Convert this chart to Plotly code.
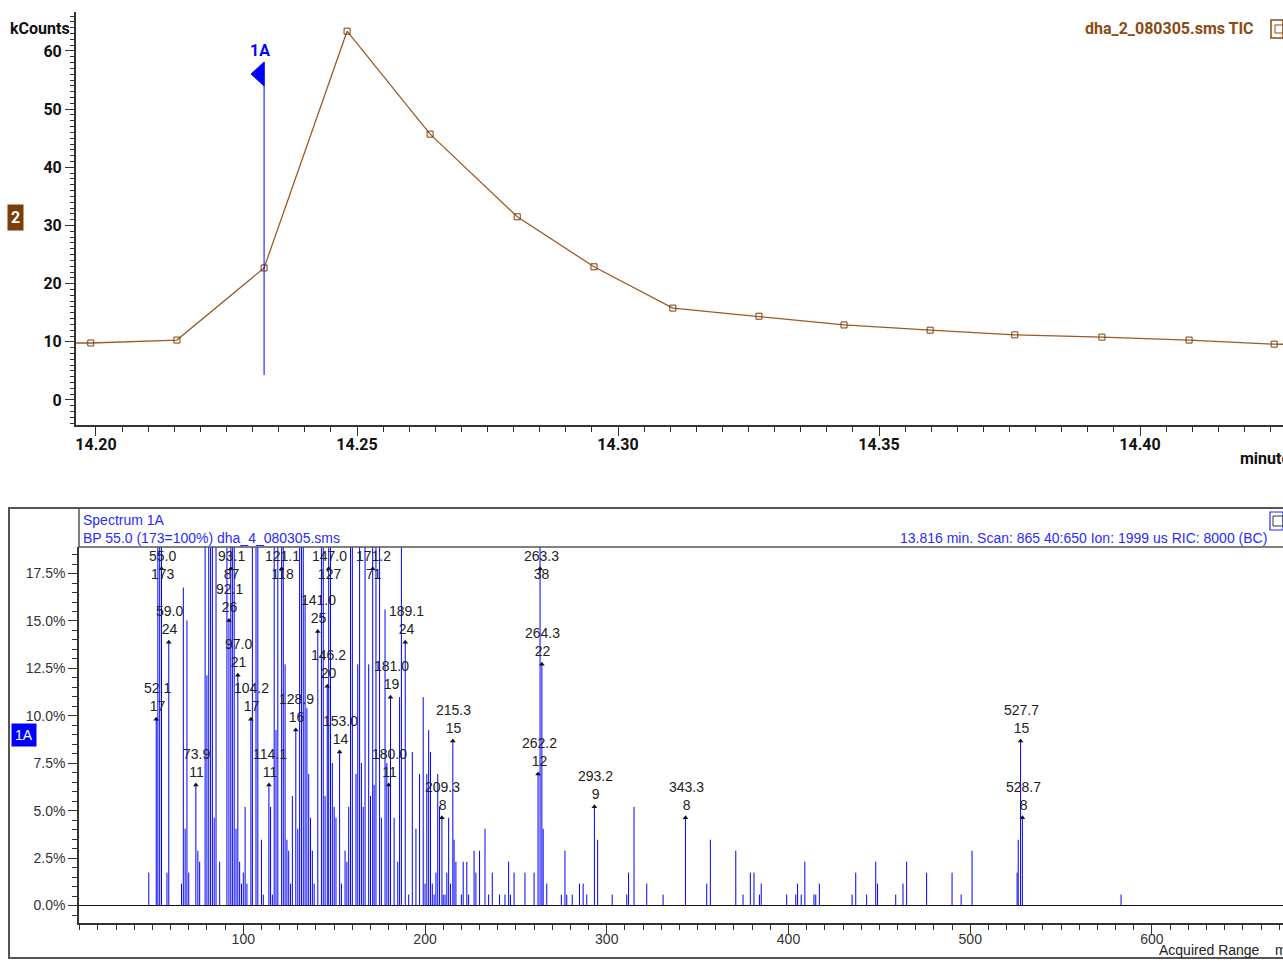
import plotly.graph_objects as go

W, H = 1283, 962

# ---------------- TIC chromatogram (upper panel) ----------------
tic_time = [14.1825, 14.1990, 14.2155, 14.2322, 14.2481, 14.2640, 14.2807, 14.2954,
            14.3105, 14.3270, 14.3433, 14.3598, 14.3760, 14.3927, 14.4094, 14.4257, 14.4424]
tic_kcounts = [9.8, 9.8, 10.3, 22.7, 63.4, 45.7, 31.5, 22.9,
               15.8, 14.4, 12.9, 12.0, 11.2, 10.8, 10.3, 9.6, 9.4]

spectrum_time = 14.2322          # retention time of spectrum 1A
spectrum_line = [4.3, 58.1]      # extent of the 1A marker line (kCounts)

# ---------------- Mass spectrum 1A (lower panel) ----------------
base_count = 173                 # BP 55.0 (173 = 100%)
spec_mz = [48, 52.1, 53, 54, 55.0, 58, 59.0, 66, 67, 68, 69, 70, 73.9, 75, 76,
           79, 80, 81, 82, 83, 84, 85, 87, 91, 92.1, 93.1, 94, 95, 96, 97.0, 98, 99, 100,
           101, 102, 104.2, 105, 107, 108, 110, 111, 114.1, 115, 116, 117, 118, 119,
           121.1, 122, 123, 124, 125, 126, 127, 128.9, 130, 131, 132, 133, 134, 135,
           136, 137, 138, 139, 141.0, 143, 144, 145, 146.2, 147.0, 148, 149, 150, 151,
           153.0, 154, 156, 157, 158, 159, 160, 162, 163, 164, 165, 166, 167, 169, 170,
           171.2, 172, 173, 175, 176, 178, 179, 180.0, 181.0, 183, 185, 186, 187, 189.1,
           191, 193, 195, 197, 199, 200, 201, 202, 203, 204, 205, 206, 207, 208, 209.3,
           210, 211, 212, 213, 214, 215.3, 216, 217, 220, 221, 223, 224, 227, 228, 230,
           233, 235, 237, 241, 244, 246, 247, 249, 255, 260, 262.2, 263.3, 264.3, 265,
           267, 275, 277, 278, 281, 285, 287, 289, 293.2, 295, 303, 311, 312, 315, 322,
           331, 343.3, 355, 357, 371, 375, 379, 381, 384, 385, 399, 404, 405, 407, 409,
           414, 415, 417, 435, 437, 443, 448, 449, 459, 463, 465, 476, 490, 495, 501,
           525.8, 526.4, 527.7, 528.7, 583]
spec_counts = [3, 17, 45, 36, 173, 3, 24, 2, 29, 7, 26, 3, 11, 5, 4,
               60, 21, 55, 40, 48, 8, 45, 4, 70, 26, 87, 40, 45, 7, 21, 4, 2, 3,
               9, 2, 17, 70, 45, 35, 6, 1, 11, 9, 1, 45, 16, 95,
               118, 40, 22, 6, 5, 2, 10, 16, 7, 60, 35, 50, 28, 18,
               12, 8, 5, 2, 25, 45, 40, 10, 20, 127, 40, 13, 9, 8,
               14, 2, 5, 4, 9, 50, 45, 12, 22, 45, 13, 9, 60, 22, 10,
               71, 11, 45, 40, 8, 27, 13, 11, 19, 8, 4, 19, 50, 24,
               1, 14, 7, 12, 19, 2, 12, 16, 14, 2, 1, 3, 12, 9, 8,
               1, 1, 3, 8, 2, 15, 6, 4, 1, 4, 4, 1, 5, 3, 5,
               7, 1, 3, 1, 1, 4, 1, 3, 3, 3, 12, 38, 22, 7,
               2, 1, 5, 1, 1, 2, 2, 1, 9, 6, 1, 1, 3, 9, 2,
               1, 8, 2, 6, 5, 1, 3, 3, 1, 2, 1, 1, 2, 1, 4,
               1, 1, 2, 1, 3, 1, 4, 2, 1, 2, 4, 3, 3, 1, 5,
               3, 6, 15, 8, 1]
labeled_mz = [52.1, 55.0, 59.0, 73.9, 92.1, 93.1, 97.0, 104.2, 114.1, 121.1, 128.9,
              141.0, 146.2, 147.0, 153.0, 171.2, 180.0, 181.0, 189.1, 209.3, 215.3,
              262.2, 263.3, 264.3, 293.2, 343.3, 527.7, 528.7]

spec_pct = [c / base_count * 100.0 for c in spec_counts]

# axis windows
tic_xrange = [14.19617, 14.42739]
tic_yrange = [-4.30, 66.70]
ms_xrange = [9.6, 672.1]
ms_yrange = [-0.92, 18.90]
flag_level = 17.76               # where labels of off-scale peaks sit

BROWN = "#9a5a26"
BROWN_DARK = "#7c3f0a"
BLUE = "#0000ff"
HEAD_BLUE = "#2a2aff"
NARROW = "Roboto, Liberation Sans, sans-serif"
ARIAL = "Liberation Sans, Arial, sans-serif"


def px(x):
    return x / W


def py(y):
    return 1 - y / H


fig = go.Figure()

# TIC line with open-square scan markers
fig.add_trace(go.Scatter(
    x=tic_time, y=tic_kcounts, mode="lines+markers", xaxis="x", yaxis="y",
    line=dict(color=BROWN, width=1.3),
    marker=dict(symbol="square-open", size=6, color=BROWN_DARK, line=dict(width=1)),
    hoverinfo="skip", showlegend=False))

# spectrum position marker 1A
fig.add_trace(go.Scatter(
    x=[spectrum_time, spectrum_time], y=spectrum_line, mode="lines",
    xaxis="x", yaxis="y", line=dict(color=BLUE, width=1),
    hoverinfo="skip", showlegend=False))

# spectrum sticks
stick_x, stick_y = [], []
for m, p in zip(spec_mz, spec_pct):
    stick_x += [m, m, None]
    stick_y += [0, p, None]
fig.add_trace(go.Scatter(
    x=stick_x, y=stick_y, mode="lines", xaxis="x2", yaxis="y2",
    line=dict(color=BLUE, width=1), hoverinfo="skip", showlegend=False))

# labelled peaks: small triangles and two-line labels
annotations = []
tri_x, tri_y = [], []
for m in labeled_mz:
    i = spec_mz.index(m)
    c = spec_counts[i]
    p = spec_pct[i]
    txt = f"{m:.1f}<br>{c}"
    if p > ms_yrange[1]:
        tri_x.append(m)
        tri_y.append(flag_level)
        annotations.append(dict(
            x=m, y=ms_yrange[1], xref="x2", yref="y2", text=txt, showarrow=False,
            xanchor="center", yanchor="top", yshift=1, xshift=1,
            font=dict(family=ARIAL, size=14, color="#222222")))
    else:
        tri_x.append(m)
        tri_y.append(p)
        annotations.append(dict(
            x=m, y=p, xref="x2", yref="y2", text=txt, showarrow=False,
            xanchor="center", yanchor="bottom", yshift=3, xshift=1,
            font=dict(family=ARIAL, size=14, color="#222222")))
fig.add_trace(go.Scatter(
    x=tri_x, y=tri_y, mode="markers", xaxis="x2", yaxis="y2",
    marker=dict(symbol="triangle-up", size=5, color="#111111"),
    hoverinfo="skip", showlegend=False))

# ---------------- text decorations ----------------
annotations += [
    dict(x=px(72), y=py(29), xref="paper", yref="paper", text="kCounts", showarrow=False,
         xanchor="right", yanchor="middle",
         font=dict(family=NARROW, size=16, color="#111111", weight=700)),
    dict(x=spectrum_time, y=spectrum_line[1], xref="x", yref="y", text="1A", showarrow=False,
         xanchor="center", yanchor="bottom", xshift=-4, yshift=0,
         font=dict(family=NARROW, size=16, color=BLUE, weight=700)),
    dict(x=px(15), y=py(218), xref="paper", yref="paper", text="2", showarrow=False,
         xanchor="center", yanchor="middle", bgcolor="#7a3e06", borderpad=3,
         font=dict(family=NARROW, size=16, color="white", weight=700)),
    dict(x=px(1256), y=py(29), xref="paper", yref="paper", text="dha_2_080305.sms TIC",
         showarrow=False, xanchor="right", yanchor="middle",
         font=dict(family=NARROW, size=16, color="#8b4a12", weight=700)),
    dict(x=px(1238), y=py(459), xref="paper", yref="paper", text="minutes", showarrow=False,
         xanchor="left", yanchor="middle",
         font=dict(family=NARROW, size=16, color="#111111", weight=700)),
    dict(x=px(81), y=py(520), xref="paper", yref="paper", text="Spectrum 1A", showarrow=False,
         xanchor="left", yanchor="middle", font=dict(family=ARIAL, size=14, color=HEAD_BLUE)),
    dict(x=px(81), y=py(538), xref="paper", yref="paper",
         text="BP 55.0 (173=100%) dha_4_080305.sms", showarrow=False,
         xanchor="left", yanchor="middle", font=dict(family=ARIAL, size=14, color=HEAD_BLUE)),
    dict(x=px(1269), y=py(538), xref="paper", yref="paper",
         text="13.816 min. Scan: 865 40:650 Ion: 1999 us RIC: 8000 (BC)", showarrow=False,
         xanchor="right", yanchor="middle", font=dict(family=ARIAL, size=14, color=HEAD_BLUE)),
    dict(x=px(24), y=py(735), xref="paper", yref="paper", text="1A", showarrow=False,
         xanchor="center", yanchor="middle", bgcolor="#0000ff", borderpad=3,
         font=dict(family=ARIAL, size=14, color="white")),
    dict(x=px(1157), y=py(950), xref="paper", yref="paper", text="Acquired Range",
         showarrow=False, xanchor="left", yanchor="middle",
         font=dict(family=ARIAL, size=14, color="#222222")),
    dict(x=px(1273), y=py(950), xref="paper", yref="paper", text="m/z",
         showarrow=False, xanchor="left", yanchor="middle",
         font=dict(family=ARIAL, size=14, color="#222222")),
]

shapes = [
    # left-pointing flag on top of the 1A marker line (pixel-sized, anchored to data)
    dict(type="path", xref="x", yref="y", xsizemode="pixel", ysizemode="pixel",
         xanchor=spectrum_time, yanchor=spectrum_line[1],
         path="M 0 0 L 0 -24 L -13 -12 Z", fillcolor=BLUE, line=dict(color=BLUE, width=1)),
    # spectrum panel frame
    dict(type="rect", xref="paper", yref="paper", x0=px(9), x1=px(1295), y0=py(958), y1=py(508),
         line=dict(color="#555555", width=2), fillcolor="rgba(0,0,0,0)", layer="below"),
    # header box of the spectrum panel
    dict(type="line", xref="paper", yref="paper", x0=px(79), x1=1.02, y0=py(547), y1=py(547),
         line=dict(color="#555555", width=1.5)),
    dict(type="line", xref="paper", yref="paper", x0=px(79), x1=px(79), y0=py(547), y1=py(508),
         line=dict(color="#555555", width=1.5)),
    # small window icons
    dict(type="rect", xref="paper", yref="paper", x0=px(1271), x1=px(1283), y0=py(38), y1=py(20),
         line=dict(color="#8b4a12", width=1.5)),
    dict(type="rect", xref="paper", yref="paper", x0=px(1275), x1=px(1283), y0=py(33), y1=py(25),
         line=dict(color="#8b4a12", width=1)),
    dict(type="rect", xref="paper", yref="paper", x0=px(1270), x1=px(1283), y0=py(530), y1=py(512),
         line=dict(color=HEAD_BLUE, width=1.2)),
    dict(type="rect", xref="paper", yref="paper", x0=px(1273), x1=px(1283), y0=py(526), y1=py(516),
         line=dict(color="#333333", width=1)),
]

bold_ticks = dict(family=NARROW, size=16, color="#111111", weight=700)
ms_ticks = dict(family=ARIAL, size=14, color="#333333")

fig.update_layout(
    width=W, height=H,
    margin=dict(l=0, r=0, t=0, b=0),
    paper_bgcolor="white", plot_bgcolor="white",
    showlegend=False,
    annotations=annotations,
    shapes=shapes,
    xaxis=dict(domain=[px(76), 1.0], range=tic_xrange, anchor="y",
               showline=True, linecolor="#333333", linewidth=2, mirror=False,
               showgrid=False, zeroline=False,
               ticks="outside", ticklen=9, tickwidth=1, tickcolor="#333333",
               tick0=14.20, dtick=0.05, tickformat=".2f", tickfont=bold_ticks,
               ticklabelstandoff=-5,
               minor=dict(ticks="outside", ticklen=5, tickwidth=1, tickcolor="#333333",
                          dtick=0.005, showgrid=False)),
    yaxis=dict(domain=[py(425), py(12)], range=tic_yrange, anchor="x",
               showline=True, linecolor="#333333", linewidth=2,
               showgrid=False, zeroline=False,
               ticks="outside", ticklen=9, tickwidth=1, tickcolor="#333333",
               tick0=0, dtick=10, tickfont=bold_ticks,
               minor=dict(ticks="outside", ticklen=4, tickwidth=1, tickcolor="#333333",
                          dtick=1, showgrid=False)),
    xaxis2=dict(domain=[px(79), 1.0], range=ms_xrange, anchor="y2",
                showline=True, linecolor="#333333", linewidth=1.5,
                showgrid=False, zeroline=False,
                ticks="outside", ticklen=10, tickwidth=1, tickcolor="#333333",
                tick0=0, dtick=100, tickfont=ms_ticks, ticklabelstandoff=-8,
                minor=dict(ticks="outside", ticklen=5, tickwidth=1, tickcolor="#333333",
                           dtick=10, showgrid=False)),
    yaxis2=dict(domain=[py(923), py(547)], range=ms_yrange, anchor="x2",
                showline=True, linecolor="#333333", linewidth=1.5,
                showgrid=False, zeroline=True, zerolinecolor="#111111", zerolinewidth=1,
                ticks="outside", ticklen=9, tickwidth=1, tickcolor="#333333",
                tick0=0, dtick=2.5, tickformat=".1f", ticksuffix="%", tickfont=ms_ticks,
                minor=dict(ticks="outside", ticklen=5, tickwidth=1, tickcolor="#333333",
                           dtick=0.5, showgrid=False)),
)

fig.write_html("out.html")
